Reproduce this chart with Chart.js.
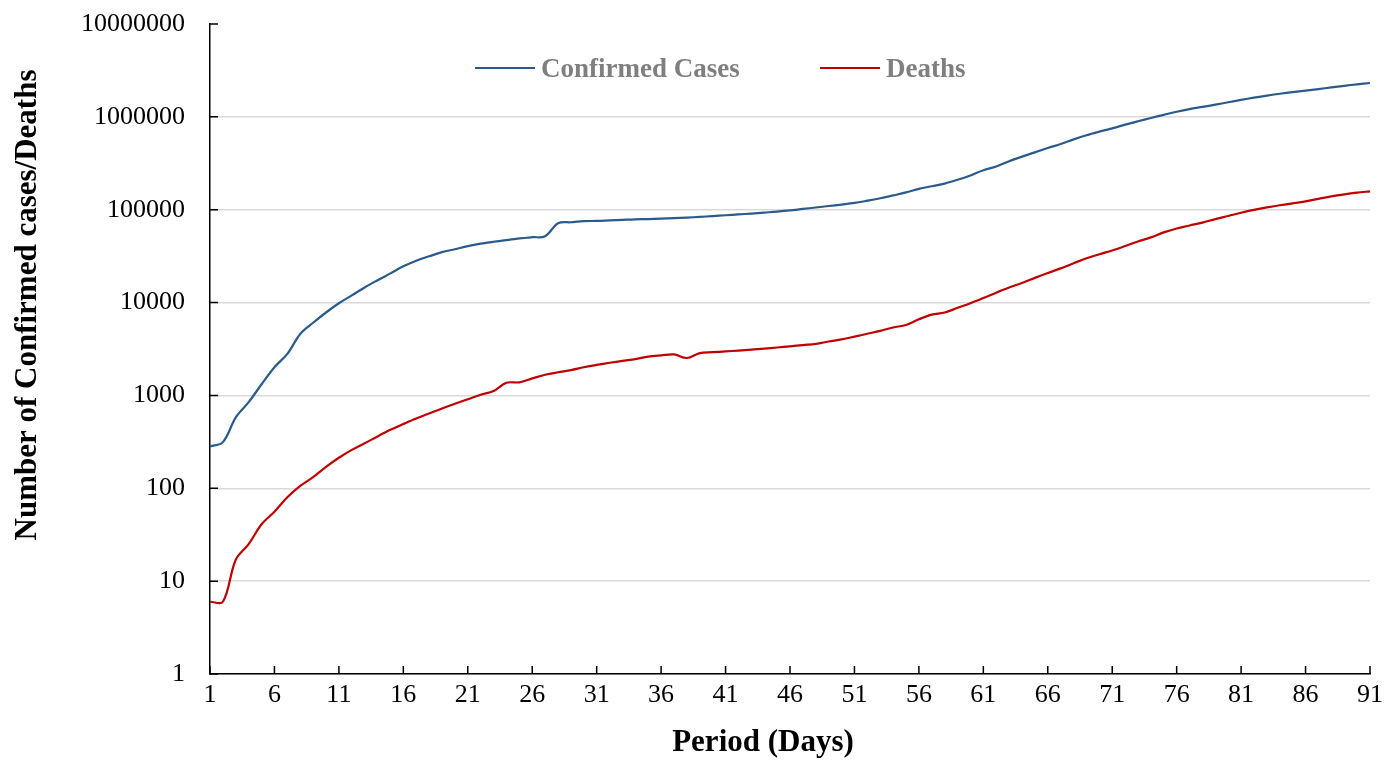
<!DOCTYPE html>
<html>
<head>
<meta charset="utf-8">
<script src="https://cdn.jsdelivr.net/npm/chart.js@4.4.1/dist/chart.umd.min.js"></script>
<style>
  html, body { margin: 0; padding: 0; background: #fff; }
  #wrap { width: 1400px; height: 760px; position: relative; }
</style>
</head>
<body>
<div id="wrap"><canvas id="myGraph"></canvas></div>
<script>
// days 1..91
var days = [];
for (var d = 1; d <= 91; d++) days.push(String(d));

var confirmed = [282, 314, 581, 846, 1320, 2014, 2798, 4593, 6065, 7818,
    9826, 11953, 14557, 17391, 20630, 24554, 28276, 31481, 34886, 37558,
    40554, 43103, 45171, 46997, 49053, 50580, 51857, 71429, 73332, 75204,
    75748, 76769, 77794, 78811, 79331, 80239, 81109, 82294, 83652, 85403,
    87137, 88948, 90870, 93090, 95324, 98192, 101927, 105586, 109577, 113702,
    118319, 125048, 132758, 142539, 153517, 167515, 179111, 191127, 209839, 234073,
    266073, 292142, 332930, 372757, 414179, 462684, 509164, 571678, 634835, 693224,
    750890, 823626, 896450, 972303, 1051635, 1133758, 1210956, 1279722, 1353361, 1436198,
    1521252, 1610909, 1696588, 1773084, 1844863, 1914916, 1991562, 2074529, 2160207, 2241778,
    2314621];

var deaths = [6, 6, 17, 25, 41, 56, 80, 106, 132, 170,
    213, 259, 305, 362, 426, 492, 565, 638, 724, 813,
    910, 1018, 1115, 1369, 1383, 1526, 1669, 1775, 1873, 2009,
    2129, 2247, 2359, 2462, 2618, 2700, 2762, 2530, 2858, 2924,
    2977, 3043, 3112, 3198, 3281, 3380, 3486, 3584, 3809, 4012,
    4292, 4613, 4955, 5393, 5735, 6606, 7426, 7807, 8778, 9840,
    11184, 12784, 14509, 16231, 18440, 20834, 23335, 26494, 29957, 33106,
    36405, 40598, 45526, 50321, 56985, 62784, 67594, 72614, 79235, 85521,
    92798, 99690, 105952, 111652, 117021, 123010, 130885, 139378, 146088, 152551,
    157847];

var yTicks = [1, 10, 100, 1000, 10000, 100000, 1000000, 10000000];

var xTitle = 'Period (Days)';
var yTitle = 'Number of Confirmed cases/Deaths';

var serif = '"Liberation Serif", "Times New Roman", serif';

// tick marks inside the plot, axis titles and the in-plot legend
var decor = {
    id: 'decor',
    afterDraw: function (chart) {
        var ctx = chart.ctx, a = chart.chartArea;
        var x = chart.scales.x, y = chart.scales.y;
        ctx.save();
        ctx.strokeStyle = '#000';
        ctx.lineWidth = 1.5;
        ctx.beginPath();
        y.ticks.forEach(function (t) {
            var py = y.getPixelForValue(t.value);
            ctx.moveTo(a.left, py);
            ctx.lineTo(a.left + 8, py);
        });
        days.forEach(function (d, i) {
            if (i % 5 !== 0) return;
            var px = x.getPixelForValue(i);
            ctx.moveTo(px, a.bottom);
            ctx.lineTo(px, a.bottom - 8);
        });
        ctx.stroke();

        ctx.fillStyle = '#000';
        ctx.font = 'bold 31px ' + serif;
        ctx.textAlign = 'center';
        ctx.textBaseline = 'alphabetic';
        ctx.fillText(xTitle, a.left + 553, 751);

        ctx.save();
        ctx.translate(36, a.top + 281);
        ctx.rotate(-Math.PI / 2);
        ctx.fillText(yTitle, 0, 0);
        ctx.restore();

        // legend
        var legX = [265, 610];
        ctx.font = 'bold 27px ' + serif;
        ctx.textAlign = 'left';
        chart.data.datasets.forEach(function (ds, i) {
            var lx = a.left + legX[i];
            ctx.strokeStyle = ds.borderColor;
            ctx.lineWidth = 2.2;
            ctx.beginPath();
            ctx.moveTo(lx, a.top + 44);
            ctx.lineTo(lx + 60, a.top + 44);
            ctx.stroke();
            ctx.fillStyle = '#7f7f7f';
            ctx.fillText(ds.label, lx + 66, a.top + 53);
        });
        ctx.restore();
    }
};

var ctx = document.getElementById('myGraph');
var myGraph = new Chart(ctx, {
    type: 'line',
    data: {
        labels: days,
        datasets: [{
            label: 'Confirmed Cases',
            data: confirmed,
            borderColor: '#2a5b8c',
            borderWidth: 2.2,
            pointRadius: 0,
            pointHoverRadius: 0,
            tension: 0.35,
            fill: false
        }, {
            label: 'Deaths',
            data: deaths,
            borderColor: '#c00000',
            borderWidth: 2.2,
            pointRadius: 0,
            pointHoverRadius: 0,
            tension: 0.35,
            fill: false
        }]
    },
    plugins: [decor],
    options: {
        responsive: true,
        maintainAspectRatio: false,
        animation: false,
        layout: { autoPadding: false, padding: { top: 24, right: 30, left: 0, bottom: 0 } },
        plugins: {
            legend: { display: false },
            tooltip: { enabled: false }
        },
        scales: {
            x: {
                type: 'category',
                grid: { display: false, drawTicks: false },
                border: { display: true, color: '#000', width: 1.5 },
                ticks: {
                    autoSkip: false,
                    maxRotation: 0,
                    padding: 6,
                    color: '#000',
                    font: { family: serif, size: 26 },
                    callback: function (v, i) { return i % 5 === 0 ? days[i] : null; }
                },
                afterFit: function (s) {
                    s.height = 86;
                    s.paddingLeft = 0;
                    s.paddingRight = 0;
                }
            },
            y: {
                type: 'logarithmic',
                min: 1,
                max: 10000000,
                grid: {
                    drawTicks: false,
                    lineWidth: 1.5,
                    color: function (c) {
                        return c.tick && c.tick.value >= 10000000 ? 'rgba(0,0,0,0)' : '#d9d9d9';
                    }
                },
                border: { display: true, color: '#000', width: 1.5 },
                ticks: {
                    padding: 25,
                    color: '#000',
                    font: { family: serif, size: 26 },
                    callback: function (v) { return String(v); }
                },
                afterBuildTicks: function (s) {
                    s.ticks = yTicks.map(function (v) { return { value: v }; });
                },
                afterFit: function (s) {
                    s.width = 210;
                    s.paddingTop = 0;
                    s.paddingBottom = 0;
                }
            }
        }
    }
});
</script>
</body>
</html>
